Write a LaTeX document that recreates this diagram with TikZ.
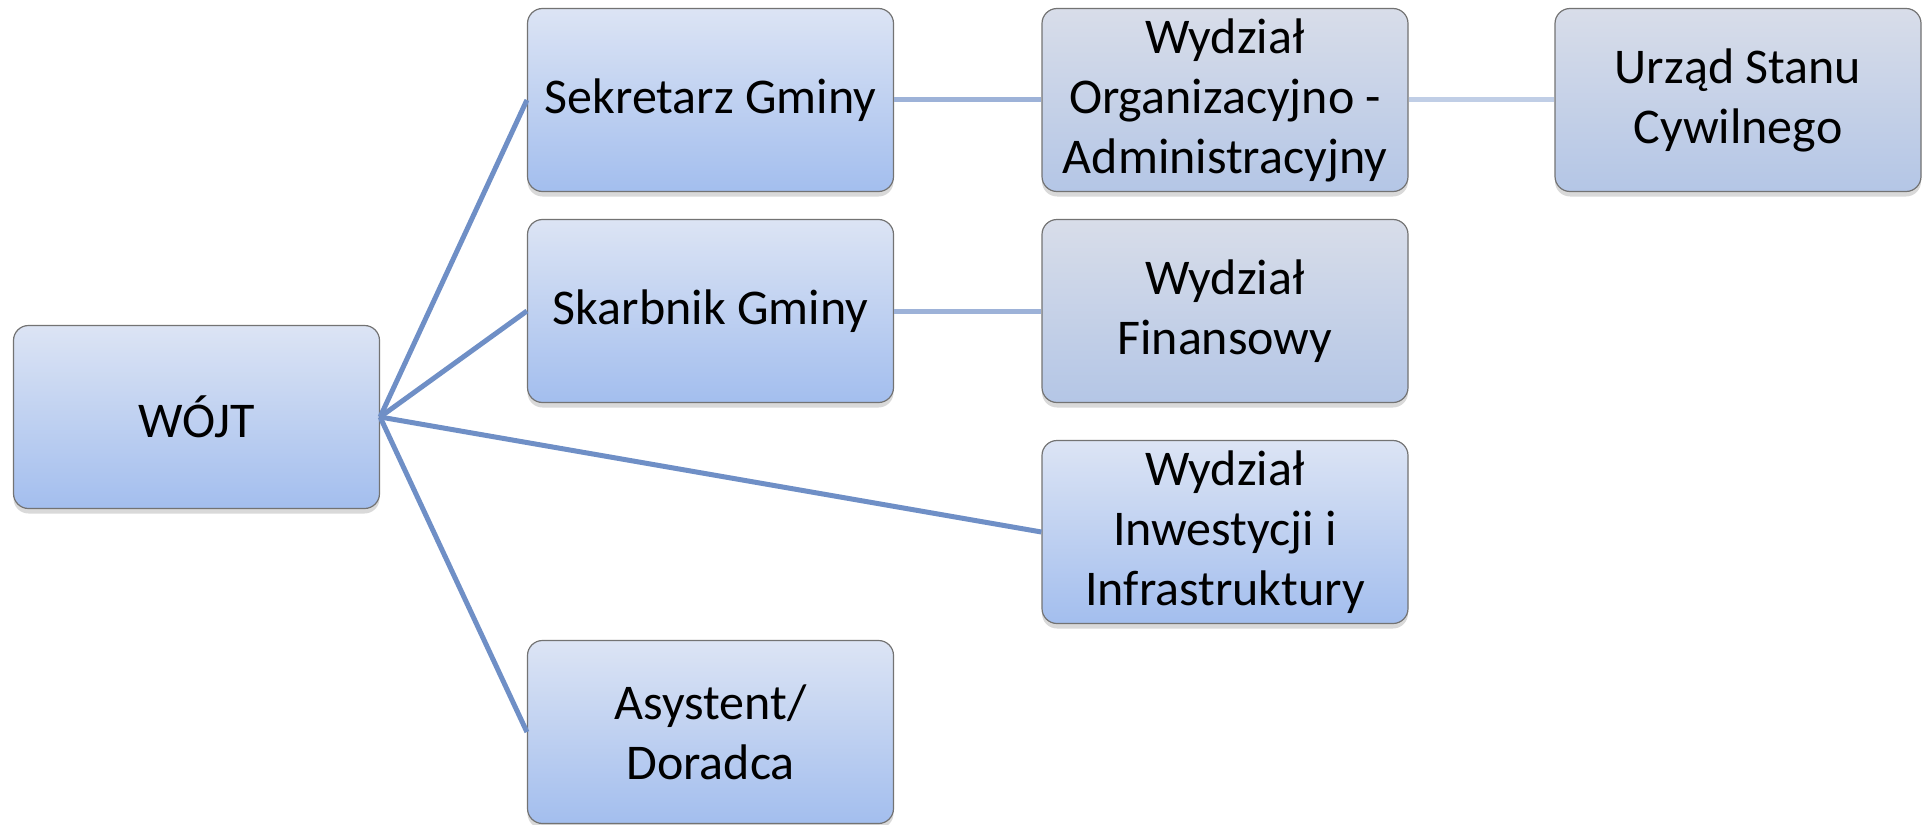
\documentclass[tikz,border=0pt]{standalone}
\usepackage{fontspec}
\setmainfont{Carlito}
\usetikzlibrary{shadows}
\definecolor{boxtop}{RGB}{220,228,244}
\definecolor{boxbot}{RGB}{163,190,238}
\definecolor{depttop}{RGB}{216,221,233}
\definecolor{deptbot}{RGB}{180,198,230}
\definecolor{linkdark}{RGB}{111,143,198}
\definecolor{linkmid}{RGB}{157,178,216}
\definecolor{linklight}{RGB}{192,206,230}

\begin{document}
\begin{tikzpicture}[x=0.5pt, y=-0.5pt, font=\fontsize{25}{30}\selectfont,
  unit/.style={draw=black!55, line width=0.6pt, rounded corners=7.5pt,
    minimum width=183pt, minimum height=91.5pt, align=center, inner sep=0pt,
    top color=boxtop, bottom color=boxbot,
    drop shadow={shadow xshift=0pt, shadow yshift=-2.5pt, opacity=0.3}},
  dept/.style={unit, top color=depttop, bottom color=deptbot},
  link/.style={line width=2.5pt}]
  \useasboundingbox (0,0) rectangle (1926,824);
  % boxes
  \node[unit] (wojt) at (196.5,417) {WÓJT};
  \node[unit] (sekretarz) at (710.5,100) {Sekretarz Gminy};
  \node[unit] (skarbnik) at (710.5,311) {Skarbnik Gminy};
  \node[unit] (asystent) at (710.5,732) {Asystent/\\Doradca};
  \node[dept] (organiz) at (1225,100) {Wydział\\Organizacyjno -\\Administracyjny};
  \node[dept] (finanse) at (1225,311) {Wydział\\Finansowy};
  \node[unit] (inwest) at (1225,532) {Wydział\\Inwestycji i\\Infrastruktury};
  \node[dept] (usc) at (1738,100) {Urząd Stanu\\Cywilnego};
  % connectors
  \draw[link, linkdark] (wojt.east) -- (sekretarz.west);
  \draw[link, linkdark] (wojt.east) -- (skarbnik.west);
  \draw[link, linkdark] (wojt.east) -- (inwest.west);
  \draw[link, linkdark] (wojt.east) -- (asystent.west);
  \draw[link, linkmid] (sekretarz.east) -- (organiz.west);
  \draw[link, linkmid] (skarbnik.east) -- (finanse.west);
  \draw[link, linklight] (organiz.east) -- (usc.west);
\end{tikzpicture}
\end{document}
